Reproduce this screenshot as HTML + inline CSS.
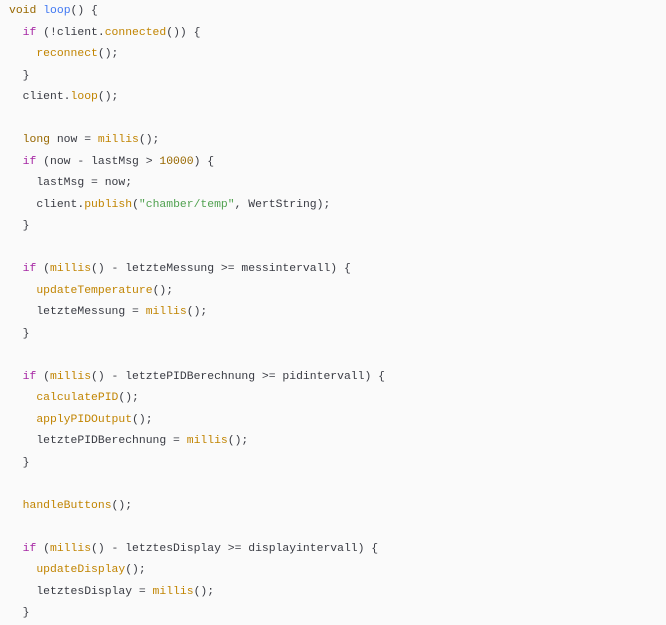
<!DOCTYPE html>
<html><head><meta charset="utf-8"><style>
html,body{margin:0;padding:0;background:#fafafa;width:666px;height:623px;overflow:hidden}
pre{margin:0;position:absolute;left:9px;top:1px;font-family:"Liberation Mono",monospace;font-size:11.4px;line-height:21.5px;color:#383a42}
.k{color:#986801}.f{color:#4078f2}.p{color:#a626a4}.c{color:#c18401}.s{color:#50a14f}.n{color:#986801}
</style></head><body><pre><span class="k">void</span> <span class="f">loop</span>() {
  <span class="p">if</span> (!client.<span class="c">connected</span>()) {
    <span class="c">reconnect</span>();
  }
  client.<span class="c">loop</span>();

  <span class="k">long</span> now = <span class="c">millis</span>();
  <span class="p">if</span> (now - lastMsg &gt; <span class="n">10000</span>) {
    lastMsg = now;
    client.<span class="c">publish</span>(<span class="s">"chamber/temp"</span>, WertString);
  }

  <span class="p">if</span> (<span class="c">millis</span>() - letzteMessung &gt;= messintervall) {
    <span class="c">updateTemperature</span>();
    letzteMessung = <span class="c">millis</span>();
  }

  <span class="p">if</span> (<span class="c">millis</span>() - letztePIDBerechnung &gt;= pidintervall) {
    <span class="c">calculatePID</span>();
    <span class="c">applyPIDOutput</span>();
    letztePIDBerechnung = <span class="c">millis</span>();
  }

  <span class="c">handleButtons</span>();

  <span class="p">if</span> (<span class="c">millis</span>() - letztesDisplay &gt;= displayintervall) {
    <span class="c">updateDisplay</span>();
    letztesDisplay = <span class="c">millis</span>();
  }
</pre></body></html>
